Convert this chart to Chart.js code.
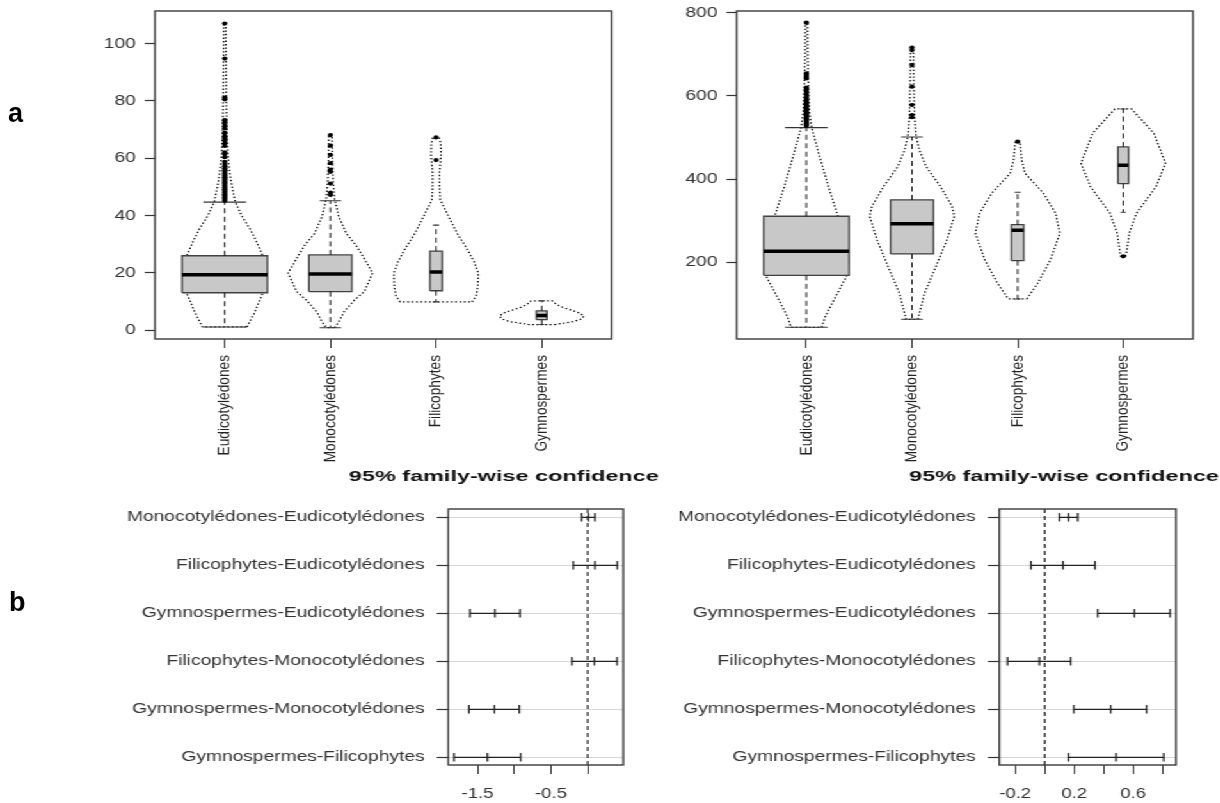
<!DOCTYPE html>
<html>
<head>
<meta charset="utf-8">
<script src="https://cdn.jsdelivr.net/npm/chart.js@4.4.0/dist/chart.umd.min.js"></script>
<style>
  html, body { margin: 0; padding: 0; background: #fff; width: 1220px; height: 803px; overflow: hidden; }
  #stage { position: absolute; left: 0; top: 0; width: 953.125px; height: 803px; transform: scaleX(1.28); transform-origin: 0 0; }
  #stage canvas { position: absolute; }
  .panel-letter { position: absolute; font: bold 27px "Liberation Sans", Arial, sans-serif; line-height: 27px; color: #000; }
</style>
</head>
<body>
<div id="stage"></div>
<div class="panel-letter" style="left:8px; top:100px">a</div>
<div class="panel-letter" style="left:9px; top:589px">b</div>
<script>
// ---------- groups ----------
const groups = ['Eudicotylédones', 'Monocotylédones', 'Filicophytes', 'Gymnospermes'];

// ---------- panel a, left: box statistics ----------
const a1Q1 = [13.1, 13.5, 13.8, 3.7];
const a1Median = [19.4, 19.6, 20.3, 5.2];
const a1Q3 = [26.0, 26.3, 27.6, 6.8];
const a1WhiskerLow = [1.15, 0.9, 9.9, 2.0];
const a1WhiskerHigh = [44.7, 45.2, 36.7, 10.3];
const a1Outliers = [
  [45.2, 45.8, 46.3, 46.9, 47.4, 48, 48.6, 49.2, 49.8, 50.4, 51, 51.6, 52.2, 52.8, 53.4, 54, 54.6, 55.2, 55.8, 56.5,
   57.2, 58, 58.8, 60.4, 61.5, 62.1, 64.3, 65.2, 66, 67, 67.8, 69, 70.5, 71.6, 72.6, 73.3, 80.6, 81.2, 94.8, 107],
  [47.2, 48.0, 51.2, 55.3, 56.1, 58.3, 61.2, 64.4, 68.1],
  [59.4, 67.3],
  []
];
// violin outlines: value levels and density half-widths
const a1ViolinLevels = [
  [1.15, 6, 13, 19, 26, 31, 35, 40, 44.7, 50, 55, 61, 70, 80, 95, 107],
  [0.9, 3, 6.5, 10.6, 13.5, 20, 26.3, 29.8, 33.8, 39.6, 45.8, 52, 60, 68.1],
  [9.9, 12, 15.4, 20, 23.9, 28.6, 33.8, 39.6, 45.5, 50, 55, 58, 61, 65, 67.3],
  [2.0, 3, 4, 5, 6, 7, 8, 9, 10.3]
];
const a1ViolinWidths = [
  [0.21, 0.28, 0.36, 0.40, 0.36, 0.30, 0.245, 0.16, 0.10, 0.07, 0.047, 0.03, 0.02, 0.015, 0.012, 0.01],
  [0.04, 0.08, 0.13, 0.23, 0.32, 0.40, 0.30, 0.24, 0.15, 0.08, 0.04, 0.025, 0.018, 0.015],
  [0.34, 0.38, 0.395, 0.40, 0.36, 0.29, 0.20, 0.12, 0.04, 0.033, 0.033, 0.04, 0.047, 0.045, 0.03],
  [0.12, 0.30, 0.38, 0.40, 0.36, 0.28, 0.20, 0.14, 0.10]
];
const a1Ticks = [0, 20, 40, 60, 80, 100];

// ---------- panel a, right: box statistics ----------
const a2Q1 = [168.7, 220, 203.8, 389];
const a2Median = [226.4, 292.8, 276.9, 433.2];
const a2Q3 = [310.6, 349.8, 290.4, 477.2];
const a2WhiskerLow = [43.7, 63, 111.8, 320.2];
const a2WhiskerHigh = [523.6, 501.2, 368.3, 568.5];
const a2Outliers = [
  [528, 531, 534, 537, 540, 543, 546, 549, 552, 555, 558, 561, 564, 567, 570, 574, 578, 582, 586, 590,
   596, 603, 610, 616, 620, 642, 646, 650, 654, 776],
  [548.6, 554, 578, 622, 674, 710, 716],
  [490],
  [214.4]
];
const a2ViolinLevels = [
  [43.7, 70, 109, 168.7, 200, 240, 310.6, 381, 453, 523.6, 560, 620, 700, 776],
  [63, 77, 125, 189, 253, 310, 334, 382, 430, 470, 501.2, 550, 620, 716],
  [111.8, 149.5, 205.5, 269.7, 317.8, 366, 414, 446, 486, 490],
  [214.4, 221.6, 269.7, 317.8, 381.7, 438, 510, 568.5]
];
const a2ViolinWidths = [
  [0.145, 0.18, 0.26, 0.385, 0.40, 0.39, 0.30, 0.21, 0.127, 0.05, 0.03, 0.02, 0.012, 0.01],
  [0.055, 0.07, 0.118, 0.225, 0.33, 0.40, 0.38, 0.27, 0.134, 0.07, 0.04, 0.025, 0.018, 0.012],
  [0.087, 0.19, 0.31, 0.40, 0.36, 0.245, 0.07, 0.038, 0.024, 0.02],
  [0.02, 0.03, 0.057, 0.125, 0.31, 0.40, 0.29, 0.079]
];
const a2Ticks = [200, 400, 600, 800];

// ---------- panel b: Tukey HSD intervals ----------
const comparisons = [
  'Monocotylédones-Eudicotylédones',
  'Filicophytes-Eudicotylédones',
  'Gymnospermes-Eudicotylédones',
  'Filicophytes-Monocotylédones',
  'Gymnospermes-Monocotylédones',
  'Gymnospermes-Filicophytes'
];
const b1Diff = [0.008, 0.1, -1.263, 0.092, -1.27, -1.366];
const b1Lwr = [-0.082, -0.196, -1.603, -0.215, -1.617, -1.82];
const b1Upr = [0.1, 0.403, -0.922, 0.40, -0.932, -0.913];
const b1Ticks = [-1.5, -1.0, -0.5, 0];
const b1TickLabels = ['-1.5', '', '-0.5', ''];

const b2Diff = [0.16, 0.124, 0.608, -0.036, 0.447, 0.484];
const b2Lwr = [0.099, -0.093, 0.359, -0.252, 0.197, 0.16];
const b2Upr = [0.224, 0.341, 0.85, 0.176, 0.69, 0.807];
const b2Ticks = [-0.2, 0, 0.2, 0.4, 0.6, 0.8];
const b2TickLabels = ['-0.2', '', '0.2', '', '0.6', ''];

const titleText = '95% family-wise confidence';

// ---------- styling / layout ----------
const FONT = '"Liberation Sans", Arial, Helvetica, sans-serif';
Chart.defaults.font.family = FONT;
const BOX_HALF = [0.404, 0.203, 0.058, 0.05];   // box half-widths (varwidth)
const X_RANGE_A = [0.34, 4.66];
const Y_RANGE_A1 = [-3.04, 111.4];
const Y_RANGE_A2 = [15.6, 804];
const X_RANGE_B1 = [-1.899, 0.485];
const X_RANGE_B2 = [-0.308, 0.89];
const Y_RANGE_B = [0.827, 6.16];

const layoutA1 = { left: 0,   top: -20, width: 490, height: 490, area: { left: 121.1, right: 477.7, top: 11,  bottom: 339 } };
const layoutA2 = { left: 485, top: -20, width: 468, height: 490, area: { left: 575.5, right: 932.0, top: 11,  bottom: 339 } };
const layoutB1 = { left: 80,  top: 455, width: 440, height: 348, area: { left: 350.2, right: 486.95, top: 509, bottom: 765 },
                   title: { offset: -77.6, y: 21.5 } };
const layoutB2 = { left: 505, top: 455, width: 448, height: 348, area: { left: 780.7, right: 918.75, top: 509, bottom: 765 },
                   title: { offset: -70.5, y: 21.5 } };

function makeCanvas(L) {
  const c = document.createElement('canvas');
  c.width = L.width; c.height = L.height;
  c.style.left = L.left + 'px'; c.style.top = L.top + 'px';
  document.getElementById('stage').appendChild(c);
  return c;
}

// frame around the plotting region
const frame = {
  id: 'frame',
  afterDatasetsDraw(chart) {
    const { ctx, chartArea: a } = chart;
    ctx.save();
    ctx.strokeStyle = '#3a3a3a';
    ctx.lineWidth = 1.4;
    ctx.strokeRect(a.left, a.top, a.right - a.left, a.bottom - a.top);
    ctx.restore();
  }
};

// bold heading above the interval plots
const panelTitle = {
  id: 'panelTitle',
  afterDraw(chart, args, opts) {
    if (!opts || !opts.text) return;
    const { ctx, chartArea } = chart;
    ctx.save();
    ctx.font = 'bold 15px ' + FONT;
    ctx.fillStyle = '#111';
    ctx.textBaseline = 'middle';
    ctx.textAlign = 'left';
    ctx.translate(chartArea.left + opts.offset, opts.y);
    ctx.scale(opts.stretch, 1);
    ctx.fillText(opts.text, 0, 0);
    ctx.restore();
  }
};

function padding(L) {
  return { left: 0, top: L.area.top - L.top, right: L.left + L.width - L.area.right, bottom: 0 };
}

function violinPanel(L, q1, med, q3, wLo, wHi, outl, levels, widths, yRange, yTicks) {
  const datasets = [];
  groups.forEach((g, i) => {
    const c = i + 1;
    const lv = levels[i], hw = widths[i];
    const outline = lv.map((y, k) => ({ x: c + hw[k], y }));
    for (let k = lv.length - 1; k >= 0; k--) outline.push({ x: c - hw[k], y: lv[k] });
    outline.push(outline[0]);
    datasets.push({ data: outline, borderColor: '#000', borderWidth: 1.25, borderDash: [1.4, 2], pointRadius: 0, order: 6 });

    const b = BOX_HALF[i];
    datasets.push({
      data: [{ x: c - b, y: q1[i] }, { x: c + b, y: q1[i] }, { x: c + b, y: q3[i] }, { x: c - b, y: q3[i] }, { x: c - b, y: q1[i] }],
      fill: 'shape', backgroundColor: '#c8c8c8', borderColor: '#404040', borderWidth: 1.3, pointRadius: 0, order: 5
    });
    const whisk = { borderColor: '#111', borderWidth: 1, borderDash: [5, 3.5], pointRadius: 0, order: 4 };
    datasets.push(Object.assign({ data: [{ x: c, y: q3[i] }, { x: c, y: wHi[i] }] }, whisk));
    datasets.push(Object.assign({ data: [{ x: c, y: q1[i] }, { x: c, y: wLo[i] }] }, whisk));
    const staple = { borderColor: '#333', borderWidth: 1.1, pointRadius: 0, order: 3 };
    datasets.push(Object.assign({ data: [{ x: c - b / 2, y: wHi[i] }, { x: c + b / 2, y: wHi[i] }] }, staple));
    datasets.push(Object.assign({ data: [{ x: c - b / 2, y: wLo[i] }, { x: c + b / 2, y: wLo[i] }] }, staple));
    datasets.push({ data: [{ x: c - b, y: med[i] }, { x: c + b, y: med[i] }], borderColor: '#000', borderWidth: 3.5, pointRadius: 0, order: 2 });
    datasets.push({
      data: outl[i].map(y => ({ x: c, y })), showLine: false, pointRadius: 2.1,
      pointBackgroundColor: '#000', pointBorderWidth: 0, order: 1
    });
  });

  return new Chart(makeCanvas(L), {
    type: 'line',
    data: { datasets },
    options: {
      responsive: false, animation: false, events: [],
      layout: { padding: padding(L) },
      plugins: { legend: { display: false }, tooltip: { enabled: false } },
      scales: {
        x: {
          type: 'linear', min: X_RANGE_A[0], max: X_RANGE_A[1],
          afterBuildTicks: s => { s.ticks = groups.map((g, i) => ({ value: i + 1 })); },
          afterFit: s => { s.height = L.top + L.height - L.area.bottom; },
          border: { display: false },
          grid: { drawOnChartArea: false, tickLength: 9, tickColor: '#333', tickWidth: 1 },
          ticks: { autoSkip: false, minRotation: 90, maxRotation: 90, padding: 7, color: '#222',
                   font: { size: 13.7 }, callback: v => groups[Math.round(v) - 1] }
        },
        y: {
          type: 'linear', min: yRange[0], max: yRange[1],
          afterBuildTicks: s => { s.ticks = yTicks.map(v => ({ value: v })); },
          afterFit: s => { s.width = L.area.left - L.left; },
          border: { display: false },
          grid: { drawOnChartArea: false, tickLength: 8, tickColor: '#333', tickWidth: 1.2 },
          ticks: { autoSkip: false, padding: 7, color: '#333', font: { size: 15 }, callback: v => String(v) }
        }
      }
    },
    plugins: [frame]
  });
}

function tukeyPanel(L, diff, lwr, upr, xRange, xTicks, xTickLabels) {
  const datasets = [];
  datasets.push({
    data: [{ x: 0, y: Y_RANGE_B[0] }, { x: 0, y: Y_RANGE_B[1] }],
    borderColor: '#222', borderWidth: 1.3, borderDash: [4, 3], pointRadius: 0, order: 3
  });
  comparisons.forEach((name, i) => {
    const r = i + 1;
    datasets.push({ data: [{ x: lwr[i], y: r }, { x: upr[i], y: r }], borderColor: '#222', borderWidth: 1.3, pointRadius: 0, order: 2 });
    datasets.push({
      data: [lwr[i], diff[i], upr[i]].map(v => ({ x: v, y: r })), showLine: false,
      pointStyle: 'line', rotation: 90, pointRadius: 4.3, pointBorderColor: '#222', pointBorderWidth: 1.3, order: 1
    });
  });

  return new Chart(makeCanvas(L), {
    type: 'line',
    data: { datasets },
    options: {
      responsive: false, animation: false, events: [],
      layout: { padding: padding(L) },
      plugins: {
        legend: { display: false }, tooltip: { enabled: false },
        panelTitle: { text: titleText, offset: L.title.offset, y: L.title.y, stretch: 1.22 }
      },
      scales: {
        x: {
          type: 'linear', min: xRange[0], max: xRange[1],
          afterBuildTicks: s => { s.ticks = xTicks.map(v => ({ value: v })); },
          afterFit: s => { s.height = L.top + L.height - L.area.bottom; },
          border: { display: false },
          grid: { drawOnChartArea: false, tickLength: 9, tickColor: '#333', tickWidth: 1 },
          ticks: { autoSkip: false, maxRotation: 0, padding: 11, color: '#333', font: { size: 14.5 },
                   callback: (v, idx) => xTickLabels[idx] }
        },
        y: {
          type: 'linear', reverse: true, min: Y_RANGE_B[0], max: Y_RANGE_B[1],
          afterBuildTicks: s => { s.ticks = comparisons.map((c, i) => ({ value: i + 1 })); },
          afterFit: s => { s.width = L.area.left - L.left; },
          border: { display: false },
          grid: { drawOnChartArea: true, color: '#d6d6d6', lineWidth: 1, tickLength: 9, tickColor: '#333', tickWidth: 1.2 },
          ticks: { autoSkip: false, padding: 9.4, color: '#333', font: { size: 15 },
                   callback: v => comparisons[Math.round(v) - 1] }
        }
      }
    },
    plugins: [frame, panelTitle]
  });
}

violinPanel(layoutA1, a1Q1, a1Median, a1Q3, a1WhiskerLow, a1WhiskerHigh, a1Outliers, a1ViolinLevels, a1ViolinWidths, Y_RANGE_A1, a1Ticks);
violinPanel(layoutA2, a2Q1, a2Median, a2Q3, a2WhiskerLow, a2WhiskerHigh, a2Outliers, a2ViolinLevels, a2ViolinWidths, Y_RANGE_A2, a2Ticks);
tukeyPanel(layoutB1, b1Diff, b1Lwr, b1Upr, X_RANGE_B1, b1Ticks, b1TickLabels);
tukeyPanel(layoutB2, b2Diff, b2Lwr, b2Upr, X_RANGE_B2, b2Ticks, b2TickLabels);
</script>
</body>
</html>
